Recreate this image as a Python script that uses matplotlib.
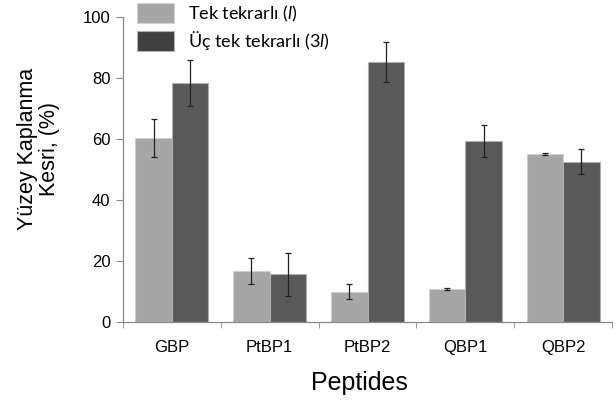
import matplotlib
matplotlib.use("Agg")
import matplotlib.pyplot as plt
import numpy as np

peptides = ["GBP", "PtBP1", "PtBP2", "QBP1", "QBP2"]
single = [60.4, 16.6, 9.9, 10.9, 55.2]
single_err = [6.2, 4.3, 2.4, 0.4, 0.3]
triple = [78.3, 15.6, 85.3, 59.3, 52.6]
triple_err = [7.6, 7.1, 6.6, 5.3, 4.0]
legend_labels = ["Tek tekrarlı ($\\mathit{l}$)", "Üç tek tekrarlı (3$\\mathit{l}$)"]

plt.rcParams["mathtext.fontset"] = "custom"
plt.rcParams["mathtext.rm"] = "Lato"
plt.rcParams["mathtext.it"] = "Lato:italic"

fig = plt.figure(figsize=(6.16, 4.03), dpi=100)
ax = fig.add_axes([0.1997, 0.201, 0.7938, 0.757])

x = np.arange(len(peptides))
w = 0.374
ekw = dict(elinewidth=0.9, capthick=0.9, ecolor="#222222")
ax.bar(x - w/2, single, w, yerr=single_err, capsize=2, color="#a6a6a6",
       edgecolor="#d0d0d0", linewidth=0.8, error_kw=ekw, label=legend_labels[0])
ax.bar(x + w/2, triple, w, yerr=triple_err, capsize=2, color="#595959",
       edgecolor="#b0b0b0", linewidth=0.8, error_kw=ekw, label=legend_labels[1])

ax.set_xlim(-0.5, len(peptides) - 0.5)
ax.set_ylim(0, 100)
ax.set_yticks(range(0, 101, 20))
ax.tick_params(axis="y", labelsize=12, length=5, color="#888888", pad=4)
ax.set_xticks(x)
ax.set_xticklabels(peptides, fontsize=12)
ax.tick_params(axis="x", length=0, pad=13)
ax.set_xticks(np.arange(-0.5, len(peptides)), minor=True)
ax.tick_params(axis="x", which="minor", length=4, color="#888888")
for lab in ax.get_xticklabels() + ax.get_yticklabels():
    lab.set_fontfamily("Liberation Sans")

for s in ["top", "right"]:
    ax.spines[s].set_visible(False)
for s in ["left", "bottom"]:
    ax.spines[s].set_color("#888888")
    ax.spines[s].set_linewidth(0.9)

ax.set_xlabel("Peptides", fontsize=18, family="Liberation Sans")
ax.xaxis.set_label_coords(0.484, -0.16)
ax.set_ylabel("Yüzey Kaplanma\nKesri, (%)", fontsize=15.5, family="Liberation Sans",
              linespacing=1.1)
ax.yaxis.set_label_coords(-0.128, 0.567)

leg = ax.legend(loc="upper left", bbox_to_anchor=(0.0286, 1.046), frameon=False,
                prop={"family": "Lato", "size": 13}, handlelength=2.05,
                handleheight=1.33, handletextpad=0.75, labelspacing=0.33,
                borderaxespad=0.0, borderpad=0.0)
leg.legend_handles[1].set_facecolor("#404040")

fig.savefig("out.png", dpi=100)
